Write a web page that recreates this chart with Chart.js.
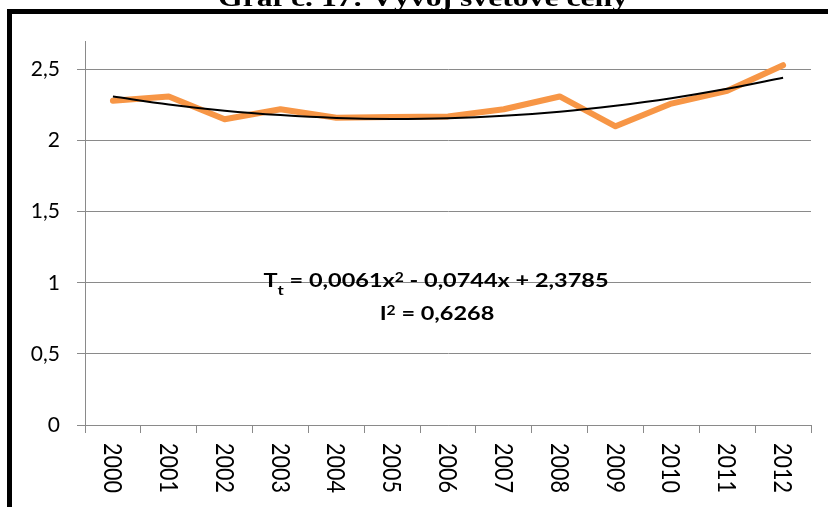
<!DOCTYPE html>
<html>
<head>
<meta charset="utf-8">
<script src="https://cdn.jsdelivr.net/npm/chart.js@4/dist/chart.umd.min.js"></script>
<style>
  html, body { margin: 0; padding: 0; background: #ffffff; }
  #wrap { width: 828px; height: 507px; position: relative; overflow: hidden; }
</style>
</head>
<body>
<div id="wrap"><canvas id="c" width="828" height="507"></canvas></div>
<script>
// ---- data ----
const titleText = 'Graf č. 17: Vývoj světové ceny';
const categories = ['2000','2001','2002','2003','2004','2005','2006','2007','2008','2009','2010','2011','2012'];
const prices = [2.28, 2.31, 2.15, 2.22, 2.16, 2.165, 2.17, 2.22, 2.31, 2.10, 2.26, 2.35, 2.53];
const trendValues = [2.310, 2.254, 2.210, 2.179, 2.159, 2.152, 2.157, 2.174, 2.203, 2.245, 2.298, 2.364, 2.442];
const yTickLabels = ['0', '0,5', '1', '1,5', '2', '2,5'];
const equationParts = [['T', 'main'], ['t', 'sub'], [' = 0,0061x', 'main'], ['2', 'sup'], [' - 0,0744x + 2,3785', 'main']];
const rSquaredParts = [['I', 'main'], ['2', 'sup'], [' = 0,6268', 'main']];

const GRID = '#8a8a8a';

const decorPlugin = {
  id: 'decor',
  afterDraw(chart) {
    const ctx = chart.ctx;
    ctx.save();
    // outer chart border (cut off at right / bottom)
    ctx.strokeStyle = '#000';
    ctx.lineWidth = 5;
    ctx.lineJoin = 'miter';
    ctx.beginPath();
    ctx.moveTo(9.5, 530);
    ctx.lineTo(9.5, 11.5);
    ctx.lineTo(850, 11.5);
    ctx.stroke();

    // title (partly cut off at the top)
    ctx.fillStyle = '#000';
    ctx.font = 'bold 26px "Liberation Serif", "Times New Roman", serif';
    ctx.textBaseline = 'alphabetic';
    ctx.textAlign = 'left';
    const tw = ctx.measureText(titleText).width;
    const tsx = 410 / tw;
    ctx.save();
    ctx.translate(423 - 205, 6);
    ctx.scale(tsx, 1);
    ctx.fillText(titleText, 0, 0);
    ctx.restore();

    // rotated category labels (reading top to bottom)
    const xs = chart.scales.x;
    ctx.font = '25px Lato, "Noto Sans", sans-serif';
    const capH = 25 * 0.7165;
    categories.forEach((lab, i) => {
      const px = xs.getPixelForValue(i);
      const w = ctx.measureText(lab).width;
      ctx.save();
      ctx.translate(px, 443);
      ctx.rotate(Math.PI / 2);
      ctx.scale(50 / w, 1);
      ctx.fillText(lab, 0, capH / 2);
      ctx.restore();
    });

    // trendline equation
    const fonts = {
      main: 'bold 19.5px Lato, "Noto Sans", sans-serif',
      sub: 'bold 14px Lato, "Noto Sans", sans-serif',
      sup: 'bold 13px Lato, "Noto Sans", sans-serif'
    };
    const shift = { main: 0, sub: 8, sup: -5.5 };
    function measure(parts) {
      let w = 0;
      parts.forEach(([t, k]) => { ctx.font = fonts[k]; w += ctx.measureText(t).width; });
      return w;
    }
    const w1 = measure(equationParts);
    const sx = 345 / w1;
    function drawParts(parts, cx, baseY) {
      const w = measure(parts) * sx;
      ctx.save();
      ctx.translate(cx - w / 2, baseY);
      ctx.scale(sx, 1);
      let x = 0;
      parts.forEach(([t, k]) => {
        ctx.font = fonts[k];
        ctx.fillText(t, x, shift[k]);
        x += ctx.measureText(t).width;
      });
      ctx.restore();
    }
    drawParts(equationParts, 436, 287);
    drawParts(rSquaredParts, 437, 320);
    ctx.restore();
  }
};

new Chart(document.getElementById('c'), {
  type: 'line',
  data: {
    labels: categories,
    datasets: [
      {
        label: 'Polyg. (trend)',
        data: trendValues,
        borderColor: '#000000',
        borderWidth: 2,
        pointRadius: 0,
        cubicInterpolationMode: 'monotone',
        fill: false
      },
      {
        label: 'Světová cena',
        data: prices,
        borderColor: '#F79646',
        borderWidth: 6,
        pointRadius: 0,
        tension: 0,
        borderCapStyle: 'round',
        borderJoinStyle: 'round',
        fill: false
      }
    ]
  },
  options: {
    responsive: false,
    animation: false,
    events: [],
    layout: { padding: { top: 41, right: 17, bottom: 0, left: 0 } },
    plugins: {
      legend: { display: false },
      title: { display: false },
      tooltip: { enabled: false }
    },
    scales: {
      x: {
        type: 'category',
        offset: true,
        grid: {
          offset: true,
          drawOnChartArea: false,
          drawTicks: true,
          tickLength: 8,
          color: GRID,
          lineWidth: 1
        },
        border: { display: true, color: GRID, width: 1 },
        ticks: { display: false },
        afterFit(scale) { scale.height = 82; }
      },
      y: {
        min: 0,
        max: 2.7,
        grid: { color: GRID, lineWidth: 1, tickLength: 8, drawTicks: true },
        border: { display: true, color: GRID, width: 1 },
        ticks: {
          stepSize: 0.5,
          includeBounds: false,
          padding: 17,
          color: '#000',
          font: { family: 'Lato, "Noto Sans", sans-serif', size: 21 },
          callback: (v) => {
            const idx = Math.round(v / 0.5);
            return yTickLabels[idx] !== undefined ? yTickLabels[idx] : '';
          }
        },
        afterFit(scale) { scale.width = 85; }
      }
    }
  },
  plugins: [decorPlugin]
});
</script>
</body>
</html>
